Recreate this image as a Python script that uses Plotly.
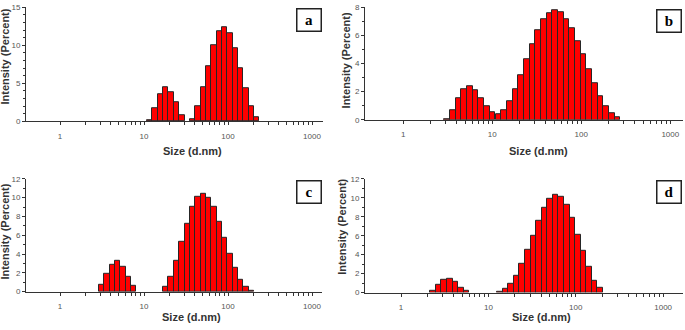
import numpy as np
import plotly.graph_objects as go

# ---------------- data ----------------
# DLS size classes (d.nm) and intensity (%) for each sample
size_a = [11.70, 13.54, 15.69, 18.17, 21.04, 24.36, 28.21,
          37.84, 43.82, 50.75, 58.77, 68.06, 78.82, 91.28, 105.7, 122.4, 141.8, 164.2, 190.1, 220.2]
int_a = [0.1, 1.74, 3.57, 4.43, 3.9, 2.5, 0.85,
         0.34, 1.96, 4.43, 7.28, 9.96, 11.8, 12.34, 11.57, 9.6, 7.0, 4.3, 1.96, 0.55]

size_b = [3.122, 3.615, 4.187, 4.849, 5.615, 6.503, 7.531, 8.721, 10.10, 11.70, 13.54, 15.69,
          18.17, 21.04, 24.36, 28.21, 32.67, 37.84, 43.82, 50.75, 58.77, 68.06, 78.82, 91.28,
          105.7, 122.4, 141.8, 164.2, 190.1, 220.2, 255.0]
int_b = [0.07, 0.69, 1.54, 2.17, 2.40, 2.10, 1.52, 0.94, 0.55, 0.41, 0.69, 1.31,
         2.17, 3.2, 4.29, 5.39, 6.38, 7.14, 7.58, 7.76, 7.63, 7.17, 6.54, 5.6,
         4.63, 3.6, 2.63, 1.7, 0.94, 0.44, 0.16]

size_c = [3.122, 3.615, 4.187, 4.849, 5.615, 6.503, 7.531,
          18.17, 21.04, 24.36, 28.21, 32.67, 37.84, 43.82, 50.75, 58.77, 68.06, 78.82, 91.28,
          105.7, 122.4, 141.8, 164.2, 190.1]
int_c = [0.72, 1.86, 2.9, 3.24, 2.62, 1.62, 0.59,
         0.52, 1.55, 3.24, 5.28, 7.24, 8.97, 10.07, 10.41, 10.0, 8.97, 7.48, 5.76,
         4.03, 2.52, 1.24, 0.52, 0.1]

size_d = [2.328, 2.696, 3.122, 3.615, 4.187, 4.849, 5.615,
          13.54, 15.69, 18.17, 21.04, 24.36, 28.21, 32.67, 37.84, 43.82, 50.75, 58.77, 68.06,
          78.82, 91.28, 105.7, 122.4, 141.8, 164.2, 190.1]
int_d = [0.2, 0.82, 1.33, 1.44, 1.09, 0.55, 0.24,
         0.07, 0.41, 0.89, 1.78, 3.0, 4.48, 6.02, 7.59, 8.96, 9.88, 10.29, 10.15,
         9.23, 7.86, 6.09, 4.41, 2.74, 1.26, 0.48]

panel_labels = ["a", "b", "c", "d"]
x_tick_labels = ["1", "10", "100", "1000"]
y_max = [15, 8, 12, 12]
y_major = [5, 2, 2, 2]

# ---------------- figure ----------------
W, H = 685, 330
BIN_W = np.log10(10000 / 0.4) / 69.0   # log-width of one size class

def px(x):
    return x / W

def py(y):
    return 1 - y / H

# layout geometry (pixels) per panel: x-domain, y-domain (top, bottom), x range in log10
geom = [
    dict(xd=(26, 323), yd=(3.3, 120.7), xr=(-0.405, 3.131)),
    dict(xd=(365, 683), yd=(3.3, 119.0), xr=(-0.430, 3.143)),
    dict(xd=(26, 322), yd=(179.7, 295.7), xr=(-0.405, 3.119)),
    dict(xd=(365, 683), yd=(179.7, 296.7), xr=(-0.412, 3.227)),
]
title_pos = [  # (x-title center, y-title center) in px
    ((192, 151), (5, 54)),
    ((538, 151), (346, 58)),
    ((191, 322), (5, 234)),
    ((541, 322), (342, 229)),
]
box_pos = [(308.5, 16.5), (668.5, 17), (308.5, 193), (668.5, 193)]

sizes = [size_a, size_b, size_c, size_d]
ints = [int_a, int_b, int_c, int_d]

tick_sizes = [m * 10 ** e for e in range(0, 3) for m in range(1, 10)] + [1000]
tickvals = [float(np.log10(v)) for v in tick_sizes]
ticktext = [str(v) if str(v) in x_tick_labels else "" for v in tick_sizes]

fig = go.Figure()
FONT = "Liberation Sans Narrow, Liberation Sans, Arial, sans-serif"
layout = dict(
    width=W, height=H, margin=dict(l=0, r=0, t=0, b=0), autosize=False,
    paper_bgcolor="white", plot_bgcolor="white", showlegend=False,
    bargap=0, annotations=[],
)

for i in range(4):
    g = geom[i]
    xa = "xaxis" if i == 0 else f"xaxis{i+1}"
    ya = "yaxis" if i == 0 else f"yaxis{i+1}"
    xr = "x" if i == 0 else f"x{i+1}"
    yr = "y" if i == 0 else f"y{i+1}"
    fig.add_trace(go.Bar(
        x=np.log10(sizes[i]), y=ints[i], width=BIN_W,
        marker=dict(color="#ff0000", line=dict(color="#262626", width=1)),
        xaxis=xr, yaxis=yr,
    ))
    layout[xa] = dict(
        domain=[px(g["xd"][0]), px(g["xd"][1])], range=list(g["xr"]), anchor=yr,
        showgrid=False, zeroline=False, showline=True, linecolor="#333", linewidth=1,
        ticks="outside", ticklen=3, tickcolor="#333", tickwidth=1,
        tickvals=tickvals, ticktext=ticktext, ticklabelstandoff=4,
        tickfont=dict(family=FONT, size=8, color="#555"),
    )
    layout[ya] = dict(
        domain=[py(g["yd"][1]), py(g["yd"][0])], range=[0, y_max[i]], anchor=xr,
        showgrid=False, zeroline=False, showline=True, linecolor="#333", linewidth=1,
        ticks="outside", ticklen=3, tickcolor="#333", tickwidth=1,
        tickmode="linear", tick0=0, dtick=y_major[i],
        minor=dict(ticks="outside", ticklen=2, tickcolor="#333", dtick=y_major[i] / 2 if i else 1),
        tickfont=dict(family=FONT, size=8, color="#555"),
    )
    (tx, ty), (yx, yy) = title_pos[i]
    layout["annotations"].append(dict(
        text="<b>Size (d.nm)</b>", x=px(tx), y=py(ty), xref="paper", yref="paper",
        showarrow=False, font=dict(family=FONT, size=11, color="#333"),
        xanchor="center", yanchor="middle"))
    layout["annotations"].append(dict(
        text="<b>Intensity (Percent)</b>", x=px(yx), y=py(yy), xref="paper", yref="paper",
        showarrow=False, textangle=-90, font=dict(family=FONT, size=11, color="#333"),
        xanchor="center", yanchor="middle"))
    bx, by = box_pos[i]
    layout["annotations"].append(dict(
        text=f"<b>{panel_labels[i]}</b>", x=px(bx), y=py(by), xref="paper", yref="paper",
        showarrow=False, font=dict(family="Liberation Serif, Times New Roman, serif", size=15, color="black"),
        xanchor="center", yanchor="middle", width=21, height=19,
        bordercolor="#222", borderwidth=1.5, borderpad=1, bgcolor="white"))

fig.update_layout(**layout)
fig.write_html(
    "out.html",
    config={"displayModeBar": False, "responsive": False},
    post_script="document.body.style.margin='0';document.body.style.padding='0';"
                "document.body.style.overflow='hidden';"
                "document.documentElement.style.overflow='hidden';",
)
